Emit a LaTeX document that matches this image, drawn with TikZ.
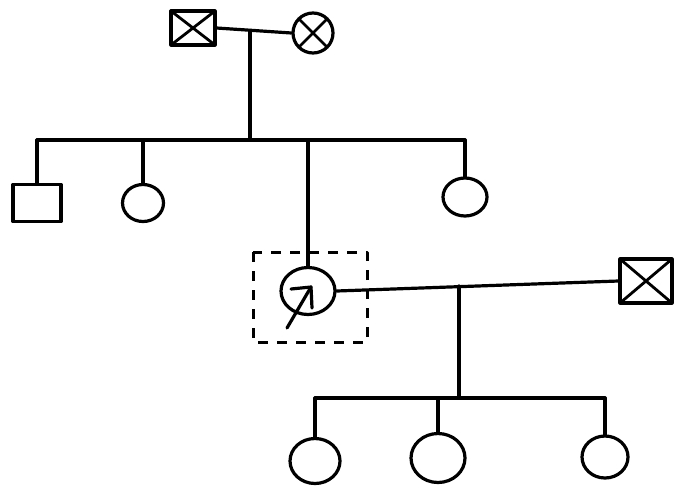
\documentclass[tikz,border=0pt]{standalone}
\usetikzlibrary{arrows.meta,shapes.geometric}
\begin{document}
\begin{tikzpicture}[x=1pt,y=-1pt,line width=3.2pt,line cap=round,line join=round,
  male/.style={draw,rectangle,inner sep=0pt},
  female/.style={draw,ellipse,inner sep=0pt},
  affected/.style={path picture={\draw[line width=2.8pt]
    (path picture bounding box.north west) -- (path picture bounding box.south east)
    (path picture bounding box.north east) -- (path picture bounding box.south west);}},
  proband box/.style={line width=3pt,line cap=butt,dash pattern=on 10pt off 9pt}]
\useasboundingbox[fill=white] (0,0) rectangle (676,488);
% generation I
\node[male,affected,minimum width=44pt,minimum height=34pt] (m1) at (193,28) {};
\node[female,affected,minimum width=40pt,minimum height=40pt] (f1) at (313,33) {};
\draw (m1.east) -- (f1.west);
\coordinate (d1) at (250,30.5);
\coordinate (s1) at (250,140);
\draw (d1) -- (s1);
% generation II
\node[male,minimum width=48pt,minimum height=37pt] (c1) at (37,203) {};
\node[female,minimum width=41pt,minimum height=37pt] (c2) at (143,203) {};
\node[female,minimum width=54pt,minimum height=47pt] (p) at (308,291) {};
\node[female,minimum width=44pt,minimum height=38pt] (c4) at (465,197) {};
\coordinate (s1l) at (37,140);
\draw (s1l) -- (c4.north |- s1l);
\draw (c1.north) -- (c1.north |- s1l);
\draw (c2.north) -- (c2.north |- s1l);
\draw (p.north) -- (p.north |- s1l);
\draw (c4.north) -- (c4.north |- s1l);
% proband marker
\draw[proband box] (253,252) rectangle (367,342);
\coordinate (tail) at (287,328);
\coordinate (tip) at (311,287);
\coordinate (barbA) at (291,289);
\coordinate (barbB) at (312,308);
\draw (tail) -- (tip);
\draw (barbA) -- (tip) -- (barbB);
% spouse
\node[male,affected,minimum width=52pt,minimum height=44pt] (m2) at (646,281) {};
\draw (p.east) -- (m2.west);
\coordinate (d2) at (459,286);
\coordinate (s2) at (459,398);
\draw (d2) -- (s2);
% generation III
\node[female,minimum width=50pt,minimum height=45pt] (g1) at (315,461) {};
\node[female,minimum width=54pt,minimum height=49pt] (g2) at (438,458) {};
\node[female,minimum width=46pt,minimum height=42pt] (g3) at (605,457) {};
\draw (g1.north |- s2) -- (g3.north |- s2);
\draw (g1.north) -- (g1.north |- s2);
\draw (g2.north) -- (g2.north |- s2);
\draw (g3.north) -- (g3.north |- s2);
\end{tikzpicture}
\end{document}
